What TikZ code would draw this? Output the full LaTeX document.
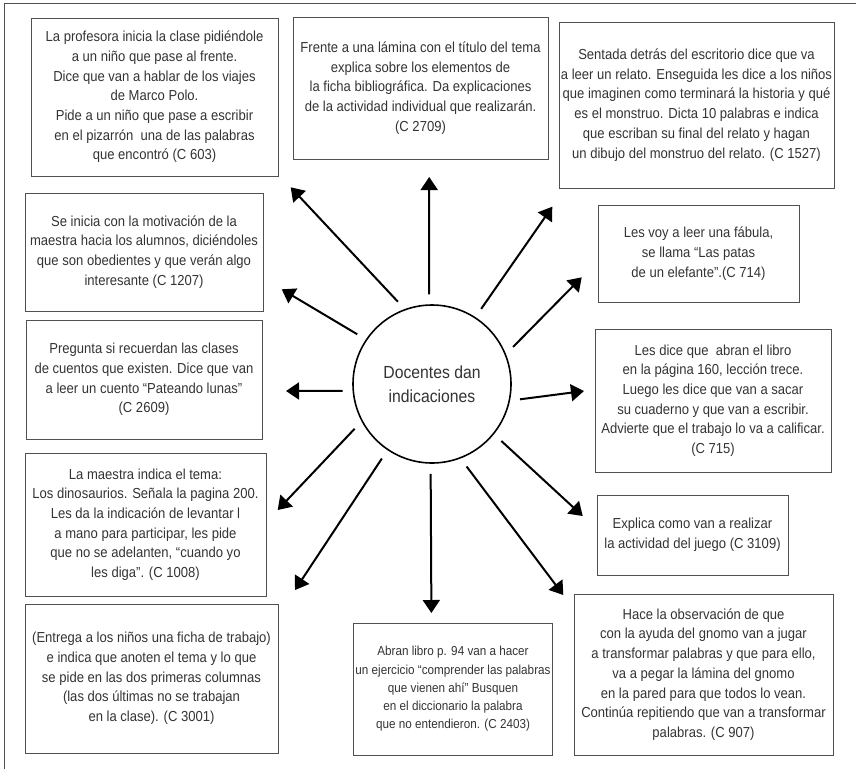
\documentclass[tikz,border=0pt]{standalone}
\usepackage{fontspec}
\setmainfont{Liberation Sans}[FakeStretch=0.9]
\usepackage{tikz}
\usetikzlibrary{arrows.meta}
\definecolor{inkgray}{HTML}{333333}
\definecolor{linegray}{HTML}{505050}
\tikzset{
  >={Triangle[length=13pt,width=17pt]},
  % cajas de texto
  tb/.style={draw=linegray,line width=0.9pt,align=center,inner sep=2pt,text=inkgray,
             font=\fontsize{14.5}{19.7}\selectfont},
  small/.style={font=\fontsize{13}{18.3}\selectfont},
  hub/.style={circle,draw=black,line width=1.6pt,inner sep=0pt,minimum size=158pt,
              align=center,text=inkgray,font=\fontsize{17.5}{24}\selectfont},
  ar/.style={->,draw=black,line width=2pt,shorten <=10pt},
  frame/.style={draw=linegray,line width=1pt},
}

\begin{document}
\begin{tikzpicture}[x=1pt,y=-1pt]
  \useasboundingbox (0,0) rectangle (856,769);
  \draw[frame] (4,769) -- (4,3) -- (856,3);
  % centro
  \node[hub] (ctr) at (432,384) {Docentes dan\\indicaciones};
  % columna izquierda
  \node[tb,minimum width=247pt,minimum height=158pt] (c603) at (154.5,97)
    {La profesora inicia la clase pidiéndole\\a un niño que pase al frente.\\
     Dice que van a hablar de los viajes\\de Marco Polo.\\
     Pide a un niño que pase a escribir\\en el pizarrón\ \ una de las palabras\\
     que encontró (C 603)};
  \node[tb,minimum width=238pt,minimum height=118pt] (c1207) at (144,252)
    {Se inicia con la motivación de la\\maestra hacia los alumnos, diciéndoles\\
     que son obedientes y que verán algo\\interesante (C 1207)};
  \node[tb,minimum width=236pt,minimum height=119pt] (c2609) at (144,379.5)
    {Pregunta si recuerdan las clases\\de cuentos que existen. Dice que van\\
     a leer un cuento “Pateando lunas”\\(C 2609)};
  \node[tb,minimum width=241pt,minimum height=143pt] (c1008) at (145.5,524.5)
    {La maestra indica el tema:\\Los dinosaurios. Señala la pagina 200.\\
     Les da la indicación de levantar l\\a mano para participar, les pide\\
     que no se adelanten, “cuando yo\\les diga”. (C 1008)};
  \node[tb,minimum width=253pt,minimum height=149pt] (c3001) at (151.5,678.5)
    {(Entrega a los niños una ficha de trabajo)\\e indica que anoten el tema y lo que\\
     se pide en las dos primeras columnas\\(las dos últimas no se trabajan\\
     en la clase). (C 3001)};
  % centro arriba y abajo
  \node[tb,minimum width=255pt,minimum height=142pt] (c2709) at (420.5,88)
    {Frente a una lámina con el título del tema\\explica sobre los elementos de\\
     la ficha bibliográfica. Da explicaciones\\de la actividad individual que realizarán.\\
     (C 2709)};
  \node[tb,small,minimum width=190pt,minimum height=132pt] (c2403) at (453,689)
    {Abran libro p. 94 van a hacer\\un ejercicio “comprender las palabras\\
     que vienen ahí” Busquen\\en el diccionario la palabra\\
     que no entendieron. (C 2403)};
  % columna derecha
  \node[tb,minimum width=273pt,minimum height=166pt] (c1527) at (696.5,105)
    {Sentada detrás del escritorio dice que va\\a leer un relato. Enseguida les dice a los niños\\
     que imaginen como terminará la historia y qué\\es el monstruo. Dicta 10 palabras e indica\\
     que escriban su final del relato y hagan\\un dibujo del monstruo del relato. (C 1527)};
  \node[tb,minimum width=201pt,minimum height=97pt] (c714) at (698.5,253.5)
    {Les voy a leer una fábula,\\se llama “Las patas\\de un elefante”.(C 714)};
  \node[tb,minimum width=236pt,minimum height=143pt] (c715) at (713,400.5)
    {Les dice que\ \ abran el libro\\en la página 160, lección trece.\\
     Luego les dice que van a sacar\\su cuaderno y que van a escribir.\\
     Advierte que el trabajo lo va a calificar.\\(C 715)};
  \node[tb,minimum width=191pt,minimum height=80pt] (c3109) at (692.5,535)
    {Explica como van a realizar\\la actividad del juego (C 3109)};
  \node[tb,minimum width=259pt,minimum height=161pt] (c907) at (703.5,674.5)
    {Hace la observación de que\\con la ayuda del gnomo van a jugar\\
     a transformar palabras y que para ello,\\va a pegar la lámina del gnomo\\
     en la pared para que todos lo vean.\\Continúa repitiendo que van a transformar\\
     palabras. (C 907)};
  % puntas de flecha
  \coordinate (t2709) at (429.2,177);
  \coordinate (t603)  at (290.7,187.3);
  \coordinate (t1207) at (281.7,289.3);
  \coordinate (t2609) at (286,391);
  \coordinate (t1008) at (277.7,510);
  \coordinate (t3001) at (295,590);
  \coordinate (t2403) at (431.4,613);
  \coordinate (t907)  at (563.3,595);
  \coordinate (t3109) at (582.7,516);
  \coordinate (t715)  at (584,391);
  \coordinate (t714)  at (581.7,277.3);
  \coordinate (t1527) at (552.3,206.7);
  \foreach \a/\t in {92/t2709,110/t603,146/t1207,185/t2609,208/t1008,236/t3001,
                     269.6/t2403,291/t907,321/t3109,348/t715,22/t714,57/t1527}
    \draw[ar] (ctr.\a) -- (\t);
\end{tikzpicture}
\end{document}
